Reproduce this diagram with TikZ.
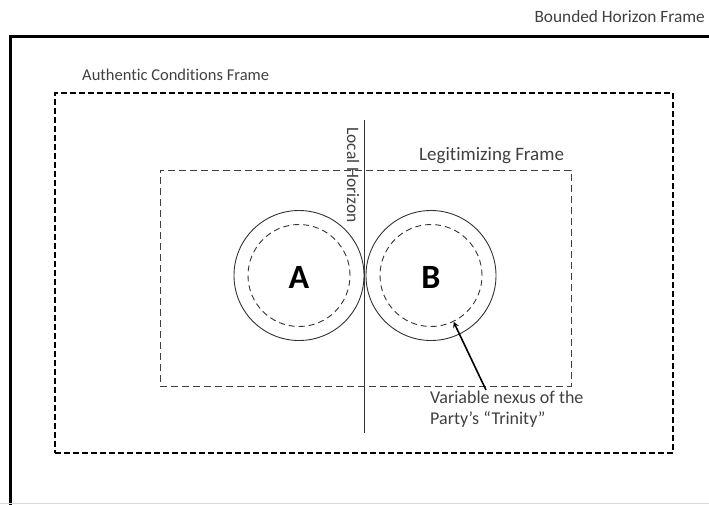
\documentclass[tikz,border=0pt]{standalone}
\usepackage{fontspec}
\setmainfont[Ligatures=NoCommon]{Carlito}
\usetikzlibrary{positioning}

\tikzset{
  frame label/.style={text=black!75, inner sep=0pt, font=\fontsize{17}{20}\selectfont},
  party/.style={circle, draw=black!80, line width=0.9pt, minimum size=130pt, inner sep=0pt},
  nexus/.style={circle, draw=black!80, line width=0.9pt, dash pattern=on 6pt off 4pt, minimum size=102pt, inner sep=0pt}
}

\begin{document}
\begin{tikzpicture}[x=1pt, y=-1pt, >=stealth]

\useasboundingbox (0,0) rectangle (709,504);

% outer frame, runs off the page
\begin{scope}
  \clip (0,0) rectangle (709,504);
  \node [draw, line width=3pt, minimum width=720pt, minimum height=480pt, anchor=north west] (bounded) at (9,35) {};
  \draw [black!15] (0,503) -- (709,503);
\end{scope}
\node [frame label, font=\fontsize{17.3}{20}\selectfont, anchor=base east] (bounded-label) at (705,22) {Bounded Horizon Frame};

% the two inner frames
\node [draw, line width=1.8pt, dash pattern=on 6pt off 3pt, minimum width=618pt, minimum height=360pt] (authentic) at (364,273) {};
\node [frame label, font=\fontsize{16.5}{20}\selectfont, anchor=base west] (authentic-label) at (82,80) {Authentic Conditions Frame};

\node [draw=black!75, line width=1pt, dash pattern=on 7pt off 4pt, minimum width=411pt, minimum height=216pt] (legit) at (365.5,278) {};
\node [frame label, font=\fontsize{19}{22}\selectfont, anchor=base west] (legit-label) at (419,160.5) {Legitimizing Frame};

% the parties
\foreach \p/\x in {A/299, B/431} {
  \node [party] (party-\p) at (\x,275.5) {};
  \node [nexus] (nexus-\p) at (\x,275.5) {};
  \node [font=\fontsize{34}{34}\selectfont\bfseries] (name-\p) at (\x,277) {\p};
}

% local horizon
\coordinate (horizon-top) at (364,120);
\coordinate (horizon-bottom) at (364,433);
\draw [black!80, line width=0.9pt] (horizon-top) -- (horizon-bottom);
\node [frame label, font=\fontsize{17.5}{20}\selectfont, rotate=-90, anchor=north west] (horizon-label) at (359.5,127) {Local Horizon};

% pointer to the nexus
\node [text=black!75, align=left, anchor=north west, inner sep=0pt, font=\fontsize{18}{20.5}\selectfont] (nexus-label) at (430,391) {Variable nexus of the\\Party’s “Trinity”};
\coordinate (nexus-tail) at (486,390);
\draw [->, line width=1.6pt] (nexus-tail) -- (nexus-B.-64);

\end{tikzpicture}
\end{document}
